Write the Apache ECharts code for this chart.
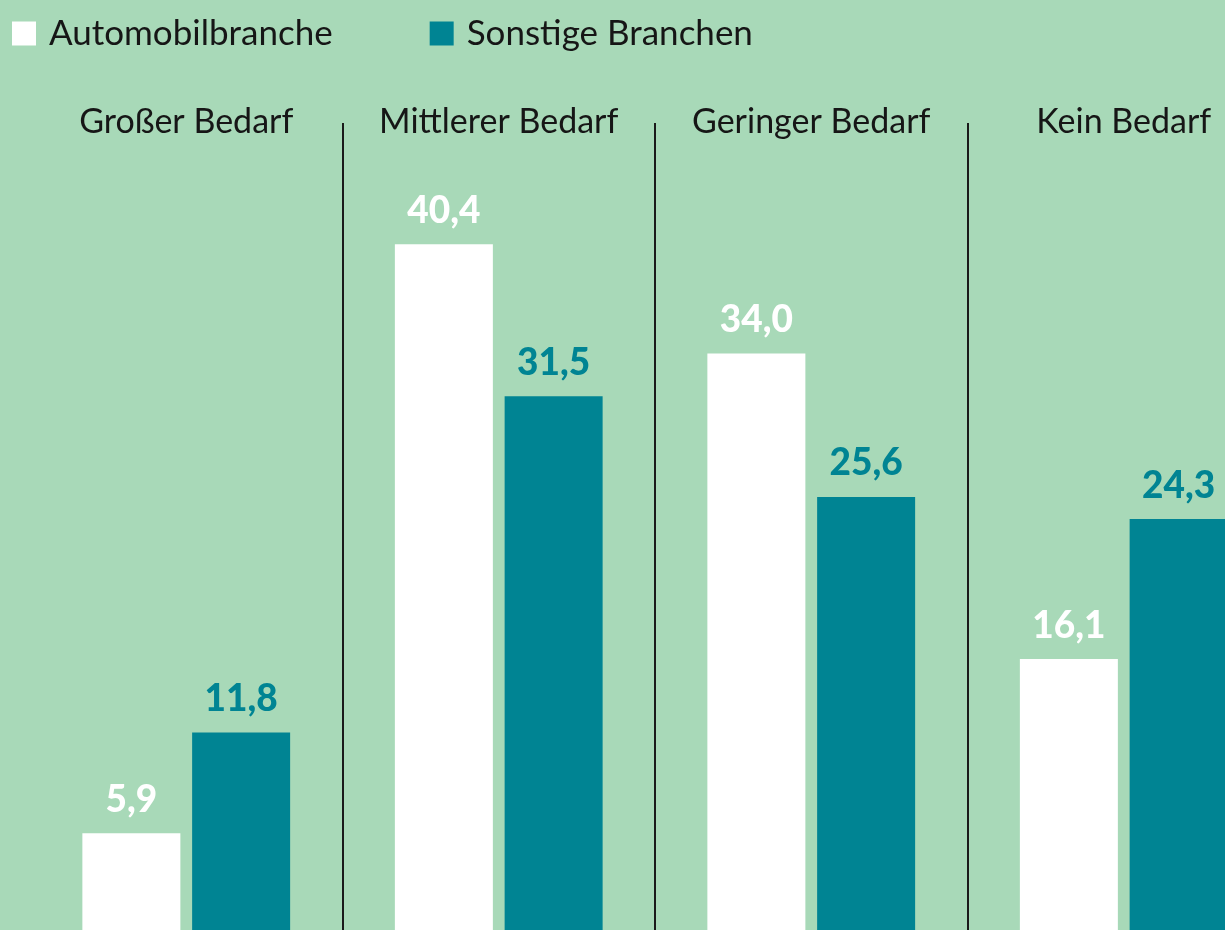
<!DOCTYPE html>
<html>
<head>
<meta charset="utf-8">
<script src="https://cdn.jsdelivr.net/npm/echarts@6/dist/echarts.min.js"></script>
<style>
html,body{margin:0;padding:0;background:#a8d9b8;}
#main{width:1225px;height:930px;}
</style>
</head>
<body>
<div id="main"></div>
<script>
var categories=['Großer Bedarf','Mittlerer Bedarf','Geringer Bedarf','Kein Bedarf'];
var seriesNames=['Automobilbranche','Sonstige Branchen'];
var autoValues=[5.9,40.4,34.0,16.1];
var otherValues=[11.8,31.5,25.6,24.3];

var fontName='Lato';
var teal='#008493';

function fmt(p){
    return p.value.toFixed(1).replace('.',',');
}

var myChart=echarts.init(document.getElementById('main'));
var option={
    backgroundColor:'#a8d9b8',
    animation:false,
    legend:{
        left:7,
        top:11,
        icon:'rect',
        itemWidth:24,
        itemHeight:24,
        itemGap:97,
        textStyle:{
            fontFamily:fontName,
            fontSize:35,
            color:'#161616',
            padding:[0,0,0,8]
        },
        data:seriesNames
    },
    // grid runs past the right edge, the last category is cut off like in the original
    grid:{
        left:30,
        right:-55,
        top:123,
        bottom:-4,
        outerBoundsMode:'none'
    },
    xAxis:{
        type:'category',
        position:'top',
        data:categories,
        axisLine:{show:false},
        axisTick:{show:false},
        axisLabel:{
            interval:0,
            margin:1,
            verticalAlign:'middle',
            fontFamily:fontName,
            fontSize:34,
            color:'#161616'
        },
        splitLine:{
            show:true,
            interval:function(idx){ return idx>0; },
            lineStyle:{color:'#1a1a1a',width:2}
        }
    },
    yAxis:{
        type:'value',
        min:0,
        max:47.5,
        show:false,
        splitLine:{show:false}
    },
    series:[{
        name:seriesNames[0],
        type:'bar',
        data:autoValues,
        barWidth:98,
        barGap:'12%',
        itemStyle:{color:'#ffffff'},
        label:{
            show:true,
            position:'top',
            distance:15,
            formatter:fmt,
            fontFamily:fontName,
            fontWeight:900,
            fontSize:37,
            color:'#ffffff'
        }
    },{
        name:seriesNames[1],
        type:'bar',
        data:otherValues,
        barWidth:98,
        barGap:'12%',
        itemStyle:{color:teal},
        label:{
            show:true,
            position:'top',
            distance:15,
            formatter:fmt,
            fontFamily:fontName,
            fontWeight:900,
            fontSize:37,
            color:teal
        }
    }]
};
myChart.setOption(option);
</script>
</body>
</html>
